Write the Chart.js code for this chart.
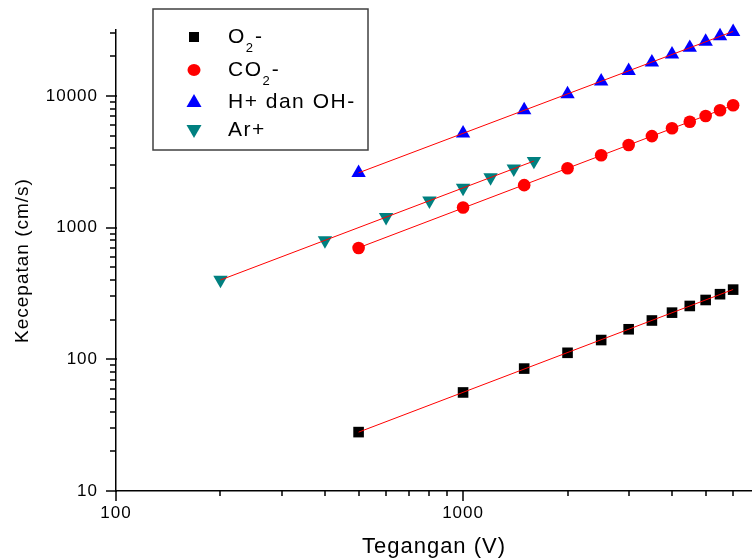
<!DOCTYPE html>
<html>
<head>
<meta charset="utf-8">
<script src="https://cdn.jsdelivr.net/npm/chart.js@4.4.1/dist/chart.umd.min.js"></script>
<style>
  html, body { margin: 0; padding: 0; background: #fff; }
  #wrap { width: 752px; height: 560px; }
</style>
</head>
<body>
<div id="wrap"><canvas id="myChart" width="752" height="560"></canvas></div>
<script>
'use strict';

// data
var voltage = [500, 1000, 1500, 2000, 2500, 3000, 3500, 4000, 4500, 5000, 5500, 6000];
var o2 = [28, 56, 85, 112, 140, 169, 197, 226, 254, 282, 312, 338];
var co2 = [700, 1420, 2100, 2820, 3540, 4230, 4950, 5670, 6360, 7040, 7780, 8490];
var hOh = [2600, 5200, 7800, 10300, 12900, 15500, 18000, 20700, 23200, 25800, 28400, 30600];
var arVoltage = [200, 400, 600, 800, 1000, 1200, 1400, 1600];
var ar = [400, 800, 1200, 1600, 2000, 2400, 2800, 3200];

var xTickLabels = ['100', '1000'];
var yTickLabels = ['10', '100', '1000', '10000'];

var FONT = 'Arial, "Liberation Sans", sans-serif';

function toPoints(xs, ys) {
  return xs.map(function (x, i) { return { x: x, y: ys[i] }; });
}

// straight fit in log-log space, from first to last point
function fitLine(xs, ys) {
  var n = xs.length, sx = 0, sy = 0, sxx = 0, sxy = 0;
  for (var i = 0; i < n; i++) {
    var lx = Math.log10(xs[i]), ly = Math.log10(ys[i]);
    sx += lx; sy += ly; sxx += lx * lx; sxy += lx * ly;
  }
  var b = (n * sxy - sx * sy) / (n * sxx - sx * sx);
  var a = (sy - b * sx) / n;
  return [xs[0], xs[n - 1]].map(function (x) {
    return { x: x, y: Math.pow(10, a + b * Math.log10(x)) };
  });
}

function isPow10(v) {
  var l = Math.log10(v);
  return Math.abs(l - Math.round(l)) < 1e-9;
}

function keepWholeTicks(scale) {
  scale.ticks = scale.ticks.filter(function (t) {
    var p = Math.pow(10, Math.floor(Math.log10(t.value) + 1e-9));
    var s = t.value / p;
    return Math.abs(s - Math.round(s)) < 1e-6;
  });
}

var legendItems = [
  { parts: [['O', 0], ['2', 1], ['-', 0]], style: 'rect', color: '#000000' },
  { parts: [['CO', 0], ['2', 1], ['-', 0]], style: 'circle', color: '#ff0000' },
  { parts: [['H+ dan OH-', 0]], style: 'triangle', color: '#0000ff' },
  { parts: [['Ar+', 0]], style: 'down', color: '#008080' }
];

function drawMarker(ctx, style, x, y, color) {
  ctx.fillStyle = color;
  ctx.beginPath();
  if (style === 'rect') {
    ctx.rect(x - 5, y - 5, 10, 10);
  } else if (style === 'circle') {
    ctx.ellipse(x, y, 6.5, 6, 0, 0, Math.PI * 2);
  } else if (style === 'triangle') {
    ctx.moveTo(x, y - 8); ctx.lineTo(x + 7.5, y + 5); ctx.lineTo(x - 7.5, y + 5);
  } else {
    ctx.moveTo(x, y + 8); ctx.lineTo(x + 7.5, y - 5); ctx.lineTo(x - 7.5, y - 5);
  }
  ctx.closePath();
  ctx.fill();
}

var spacingPlugin = {
  id: 'spacing',
  beforeDraw: function (chart) {
    chart.ctx.letterSpacing = '1px';
  }
};

// tick marks (long for decades, short for the rest) and the legend box
var decorPlugin = {
  id: 'decor',
  afterDraw: function (chart) {
    var ctx = chart.ctx;
    var xs = chart.scales.x, ys = chart.scales.y;
    var area = chart.chartArea;
    ctx.save();
    ctx.strokeStyle = '#000';
    ctx.lineWidth = 1.5;
    ctx.beginPath();
    ys.ticks.forEach(function (t) {
      var py = Math.round(ys.getPixelForValue(t.value));
      if (isPow10(t.value)) { ctx.moveTo(area.left - 10, py); ctx.lineTo(area.left + 1, py); }
      else { ctx.moveTo(area.left - 6, py); ctx.lineTo(area.left, py); }
    });
    xs.ticks.forEach(function (t) {
      var px = Math.round(xs.getPixelForValue(t.value));
      if (isPow10(t.value)) { ctx.moveTo(px, area.bottom - 1); ctx.lineTo(px, area.bottom + 10); }
      else { ctx.moveTo(px, area.bottom); ctx.lineTo(px, area.bottom + 5); }
    });
    ctx.stroke();

    // legend
    ctx.lineWidth = 1.5;
    ctx.strokeStyle = '#404040';
    ctx.fillStyle = '#fff';
    ctx.fillRect(153, 9, 215, 141);
    ctx.strokeRect(153, 9, 215, 141);
    var rows = [37, 70, 102, 130];
    ctx.textBaseline = 'middle';
    ctx.textAlign = 'left';
    legendItems.forEach(function (item, i) {
      var y = rows[i];
      drawMarker(ctx, item.style, 194, y, item.color);
      var x = 228;
      ctx.fillStyle = '#000';
      item.parts.forEach(function (p) {
        if (p[1]) {
          ctx.font = '13px ' + FONT;
          ctx.letterSpacing = '0px';
          ctx.fillText(p[0], x, y + 11);
          x += ctx.measureText(p[0]).width + 2;
        } else {
          ctx.font = '21px ' + FONT;
          ctx.letterSpacing = '1.5px';
          ctx.fillText(p[0], x, y);
          x += ctx.measureText(p[0]).width;
        }
      });
    });
    ctx.restore();
  }
};

var ctxEl = document.getElementById('myChart').getContext('2d');

var chart = new Chart(ctxEl, {
  type: 'scatter',
  data: {
    datasets: [
      { label: 'fit O2', data: fitLine(voltage, o2), showLine: true, borderColor: '#ff0000', borderWidth: 1, pointRadius: 0, order: 0 },
      { label: 'fit CO2', data: fitLine(voltage, co2), showLine: true, borderColor: '#ff0000', borderWidth: 1, pointRadius: 0, order: 0 },
      { label: 'fit H', data: fitLine(voltage, hOh), showLine: true, borderColor: '#ff0000', borderWidth: 1, pointRadius: 0, order: 0, clip: false },
      { label: 'fit Ar', data: fitLine(arVoltage, ar), showLine: true, borderColor: '#ff0000', borderWidth: 1, pointRadius: 0, order: 0 },
      {
        label: 'O2-', data: toPoints(voltage, o2), order: 1, clip: false,
        pointStyle: 'rect', pointRadius: 7.5, backgroundColor: '#000', borderColor: '#000', borderWidth: 0
      },
      {
        label: 'CO2-', data: toPoints(voltage, co2), order: 1, clip: false,
        pointStyle: 'circle', pointRadius: 6.3, backgroundColor: '#ff0000', borderColor: '#ff0000', borderWidth: 0
      },
      {
        label: 'H+ dan OH-', data: toPoints(voltage, hOh), order: 1, clip: false,
        pointStyle: 'triangle', pointRadius: 8.3, backgroundColor: '#0000ff', borderColor: '#0000ff', borderWidth: 0
      },
      {
        label: 'Ar+', data: toPoints(arVoltage, ar), order: 1, clip: false,
        pointStyle: 'triangle', rotation: 180, pointRadius: 8.3, backgroundColor: '#008080', borderColor: '#008080', borderWidth: 0
      }
    ]
  },
  options: {
    responsive: false,
    animation: false,
    events: [],
    layout: { autoPadding: false, padding: { top: 30, right: 0, left: 0, bottom: 0 } },
    plugins: { legend: { display: false }, tooltip: { enabled: false } },
    scales: {
      x: {
        type: 'logarithmic',
        position: 'bottom',
        min: 100,
        max: 6800,
        afterBuildTicks: keepWholeTicks,
        afterFit: function (scale) {
          scale.height = 69;
          scale.paddingLeft = 0;
          scale.paddingRight = 0;
        },
        grid: { display: false, drawTicks: true, tickLength: 12 },
        border: { display: true, color: '#000', width: 1.5 },
        ticks: {
          autoSkip: false,
          maxRotation: 0,
          padding: 0,
          color: '#000',
          font: { family: FONT, size: 17 },
          callback: function (v) { var s = String(v); return xTickLabels.indexOf(s) >= 0 ? s : ''; }
        },
        title: {
          display: true,
          text: 'Tegangan (V)',
          color: '#000',
          font: { family: FONT, size: 22 },
          padding: { top: 0, bottom: 0 }
        }
      },
      y: {
        type: 'logarithmic',
        position: 'left',
        min: 10,
        max: 31623,
        afterBuildTicks: keepWholeTicks,
        afterFit: function (scale) {
          scale.width = 116;
          scale.paddingTop = 0;
          scale.paddingBottom = 0;
        },
        grid: { display: false, drawTicks: true, tickLength: 18 },
        border: { display: true, color: '#000', width: 1.5 },
        ticks: {
          autoSkip: false,
          padding: 0,
          color: '#000',
          font: { family: FONT, size: 17 },
          callback: function (v) { var s = String(v); return yTickLabels.indexOf(s) >= 0 ? s : ''; }
        },
        title: {
          display: true,
          text: 'Kecepatan (cm/s)',
          color: '#000',
          font: { family: FONT, size: 19 },
          padding: { top: 11, bottom: 0 }
        }
      }
    }
  },
  plugins: [spacingPlugin, decorPlugin]
});
</script>
</body>
</html>
